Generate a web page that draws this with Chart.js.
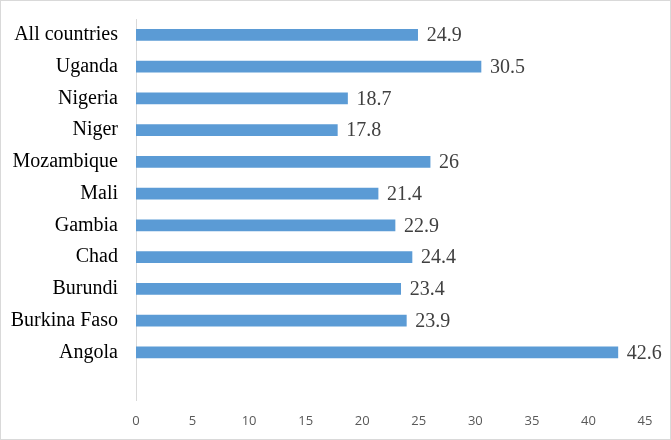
<!DOCTYPE html>
<html>
<head>
<meta charset="utf-8">
<script src="https://cdn.jsdelivr.net/npm/chart.js@4"></script>
<style>
  body { margin: 0; background: #fff; }
  #wrap { width: 671px; height: 440px; box-sizing: border-box; border: 1px solid #d9d9d9; }
</style>
</head>
<body>
<div id="wrap"><canvas id="chart" width="669" height="438"></canvas></div>
<script>
// top to bottom; last row is the blank slot under Angola
const countries = ['All countries', 'Uganda', 'Nigeria', 'Niger', 'Mozambique', 'Mali',
  'Gambia', 'Chad', 'Burundi', 'Burkina Faso', 'Angola', ''];
const values = [24.9, 30.5, 18.7, 17.8, 26, 21.4, 22.9, 24.4, 23.4, 23.9, 42.6, null];
const xTicks = [0, 5, 10, 15, 20, 25, 30, 35, 40, 45];

// value labels at the end of each bar
const valueLabels = {
  id: 'valueLabels',
  afterDatasetsDraw(chart) {
    const ctx = chart.ctx;
    const meta = chart.getDatasetMeta(0);
    ctx.save();
    ctx.font = '20px "Liberation Serif"';
    ctx.fillStyle = '#404040';
    ctx.textBaseline = 'middle';
    meta.data.forEach((bar, i) => {
      if (values[i] == null) return;
      ctx.fillText(String(values[i]), bar.x + 9, bar.y + 1);
    });
    ctx.restore();
  }
};

new Chart(document.getElementById('chart'), {
  type: 'bar',
  data: {
    labels: countries,
    datasets: [{
      data: values,
      backgroundColor: '#5b9bd5',
      barThickness: 11
    }]
  },
  options: {
    indexAxis: 'y',
    responsive: false,
    animation: false,
    layout: { padding: { top: 18, right: 25, left: 0, bottom: 0 } },
    plugins: { legend: { display: false }, tooltip: { enabled: false } },
    scales: {
      x: {
        min: 0,
        max: 45,
        afterBuildTicks: s => { s.ticks = xTicks.map(v => ({ value: v })); },
        afterFit: s => { s.height = 39; s.paddingLeft = 0; s.paddingRight = 0; },
        grid: { display: false, drawTicks: false },
        border: { display: false },
        ticks: { padding: 13, color: '#595959', font: { family: 'Open Sans', size: 13 } }
      },
      y: {
        afterFit: s => { s.width = 135; s.paddingTop = 0; s.paddingBottom = 0; },
        grid: { display: false, drawTicks: false },
        border: { display: true, color: '#d9d9d9' },
        ticks: { padding: 18, color: '#000', font: { family: 'Liberation Serif', size: 20 } }
      }
    }
  },
  plugins: [valueLabels]
});
</script>
</body>
</html>
